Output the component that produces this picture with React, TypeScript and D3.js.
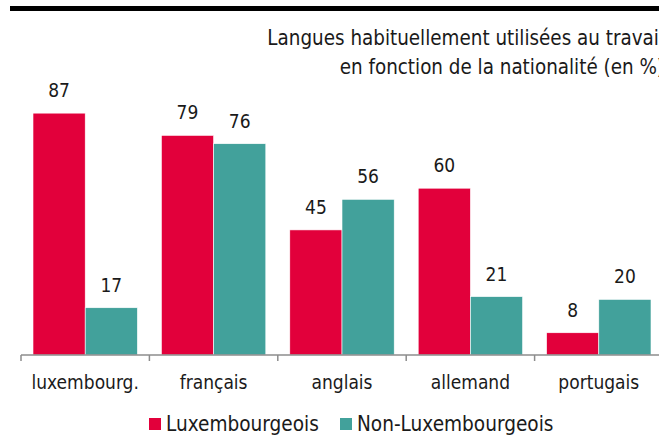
import React from "react";
import * as d3 from "d3";

const categories = ["luxembourg.", "français", "anglais", "allemand", "portugais"];
const series = ["Luxembourgeois", "Non-Luxembourgeois"];
const luxValues = [87, 79, 45, 60, 8];
const nonLuxValues = [17, 76, 56, 21, 20];
const titleLines = [
  "Langues habituellement utilisées au travail",
  "en fonction de la nationalité (en %)",
];

const colors = ["#E2003B", "#42A19B"];
const font = "'Liberation Sans Narrow', 'DejaVu Sans Condensed', sans-serif";

const App = () => {
  const width = 659;
  const height = 446;
  const baseY = 355;

  const x = d3.scaleBand<string>().domain(categories).range([21, 663]);
  const step = x.step();
  const x1 = d3.scaleBand<string>().domain(series).range([12, step - 12]);
  const y = d3.scaleLinear().domain([0, 100]).range([baseY, 77]);

  const data = categories.map((c, i) => ({
    cat: c,
    vals: [luxValues[i], nonLuxValues[i]],
  }));

  return (
    <svg
      width={width}
      height={height}
      style={{ position: "absolute", left: 0, top: 0, background: "#fff" }}
      fontFamily={font}
    >
      <rect x={10} y={6} width={width - 10} height={5} fill="#000" />
      {/* title runs off the right edge, as in the original */}
      {titleLines.map((t, i) => (
        <text
          key={t}
          x={664}
          y={45 + i * 29}
          textAnchor="end"
          fontSize={20.4}
          fill="#1a1a1a"
        >
          {t}
        </text>
      ))}
      {data.map((d) => (
        <g key={d.cat} transform={`translate(${x(d.cat)},0)`}>
          {d.vals.map((v, j) => (
            <g key={series[j]}>
              <rect
                x={x1(series[j])}
                y={y(v)}
                width={x1.bandwidth()}
                height={baseY - y(v)}
                fill={colors[j]}
                stroke="#fff"
                strokeWidth={0.6}
              />
              <text
                x={(x1(series[j]) as number) + x1.bandwidth() / 2}
                y={y(v) - 16}
                textAnchor="middle"
                fontSize={19}
                fill="#1a1a1a"
              >
                {v}
              </text>
            </g>
          ))}
          <text
            x={step / 2}
            y={389}
            textAnchor="middle"
            fontSize={19}
            fill="#1a1a1a"
          >
            {d.cat}
          </text>
        </g>
      ))}
      <line x1={21} x2={width} y1={baseY} y2={baseY} stroke="#8c8c8c" strokeWidth={1.5} />
      {categories.map((c) => (
        <line
          key={c}
          x1={x(c)}
          x2={x(c)}
          y1={baseY}
          y2={baseY + 6}
          stroke="#8c8c8c"
          strokeWidth={1.5}
        />
      ))}
      {series.map((s, i) => {
        const lx = i === 0 ? 149 : 340;
        return (
          <g key={s} transform={`translate(${lx},418)`}>
            <rect x={0} y={0} width={12} height={12} fill={colors[i]} />
            <text x={17} y={12.5} fontSize={20.6} fill="#1a1a1a">
              {s}
            </text>
          </g>
        );
      })}
    </svg>
  );
};

export default App;
